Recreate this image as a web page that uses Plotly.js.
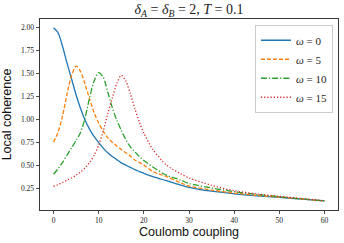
<!DOCTYPE html>
<html>
<head>
<meta charset="utf-8">
<script src="https://cdn.plot.ly/plotly-3.0.1.min.js"></script>
<style>html,body{margin:0;padding:0;background:#fff;}#chart{width:344px;height:243px;}</style>
</head>
<body>
<div id="chart"></div>
<script>
// Coulomb coupling values
const coupling = [0,1,2,3,4,5,6,7,8,9,10,11,12,13,14,15,16,17,18,19,20,22,25,28,30,35,40,45,50,55,60];
// Local coherence for each omega
const omega0  = [2.00,1.945,1.795,1.61,1.44,1.265,1.115,0.99,0.89,0.81,0.745,0.685,0.635,0.595,0.56,0.525,0.50,0.475,0.45,0.43,0.41,0.375,0.33,0.285,0.258,0.215,0.187,0.165,0.148,0.128,0.11];
const omega5  = [0.75,0.86,1.04,1.28,1.48,1.58,1.52,1.38,1.22,1.07,0.96,0.87,0.80,0.75,0.71,0.67,0.635,0.60,0.555,0.53,0.50,0.43,0.375,0.31,0.272,0.228,0.195,0.17,0.15,0.13,0.11];
const omega10 = [0.40,0.46,0.53,0.61,0.69,0.77,0.86,1.02,1.24,1.42,1.51,1.46,1.30,1.13,0.99,0.88,0.78,0.70,0.645,0.595,0.55,0.48,0.39,0.34,0.30,0.25,0.21,0.18,0.155,0.13,0.11];
const omega15 = [0.267,0.287,0.31,0.335,0.36,0.39,0.425,0.47,0.53,0.61,0.72,0.87,1.06,1.23,1.39,1.48,1.42,1.28,1.12,0.97,0.85,0.67,0.50,0.41,0.36,0.28,0.22,0.185,0.16,0.135,0.11];
const seriesNames = ["<i>ω</i> = 0","<i>ω</i> = 5","<i>ω</i> = 10","<i>ω</i> = 15"];
const xTicks = [0,10,20,30,40,50,60];
const yTicks = [0.25,0.50,0.75,1.00,1.25,1.50,1.75,2.00];

const colors = ["#1f77b4","#ff7f0e","#2ca02c","#d62728"];
const dashes = ["solid","4px,2px","6px,2px,1.2px,2px","1.2px,2px"];
const ys = [omega0, omega5, omega10, omega15];

const traces = ys.map((y,i)=>({
  x: coupling, y: y, type: "scatter", mode: "lines", name: seriesNames[i],
  line: {color: colors[i], width: 1.3, dash: dashes[i], shape: "spline", smoothing: 0.8}
}));

const tickFont = {family: "Liberation Serif, DejaVu Serif, serif", size: 7.5, color: "#222"};
const layout = {
  width: 344, height: 243,
  margin: {l: 40, r: 6, t: 19, b: 33},
  paper_bgcolor: "#fff", plot_bgcolor: "#fff",
  title: {text: "<i>δ</i><sub><i>A</i></sub> = <i>δ</i><sub><i>B</i></sub> = 2, <i>T</i> = 0.1",
          font: {family: "Liberation Serif, DejaVu Serif, serif", size: 14, color: "#222"},
          x: 0.5, xref: "paper", xanchor: "center", y: 0.962, yref: "container", yanchor: "middle"},
  xaxis: {range: [-3, 63], tickvals: xTicks, ticktext: xTicks.map(String),
          ticks: "outside", ticklen: 3.5, tickwidth: 0.8, tickcolor: "#222",
          showline: true, mirror: true, linecolor: "#222", linewidth: 0.9,
          showgrid: false, zeroline: false, tickfont: tickFont,
          title: {text: "Coulomb coupling", font: {family: "Liberation Sans, Arial, sans-serif", size: 12.5, color: "#111"}, standoff: 1}},
  yaxis: {range: [0.01, 2.095], tickvals: yTicks, ticktext: yTicks.map(v=>v.toFixed(2)),
          ticks: "outside", ticklen: 3.5, tickwidth: 0.8, tickcolor: "#222",
          showline: true, mirror: true, linecolor: "#222", linewidth: 0.9,
          showgrid: false, zeroline: false, tickfont: tickFont,
          title: {text: "Local coherence", font: {family: "Liberation Sans, Arial, sans-serif", size: 12.5, color: "#111"}, standoff: 6}},
  legend: {x: 0.983, y: 0.97, xanchor: "right", yanchor: "top",
           bgcolor: "rgba(255,255,255,0.85)", bordercolor: "#cccccc", borderwidth: 1,
           font: {family: "Liberation Serif, DejaVu Serif, serif", size: 11, color: "#222"},
           itemwidth: 30, tracegroupgap: 0},
  showlegend: true
};
Plotly.newPlot("chart", traces, layout, {staticPlot: true, displayModeBar: false});
</script>
</body>
</html>
